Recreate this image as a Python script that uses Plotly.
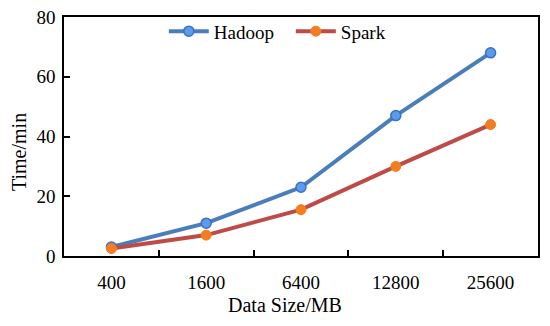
import plotly.graph_objects as go

categories = ["400", "1600", "6400", "12800", "25600"]
hadoop = [3, 11, 23, 47, 68]
spark = [2.5, 7, 15.5, 30, 44]

font = "Liberation Serif"

fig = go.Figure()
fig.add_trace(go.Scatter(
    x=categories, y=hadoop, name="Hadoop", mode="lines+markers",
    line=dict(color="#4a7ebb", width=4),
    marker=dict(size=10, color="#5b9be8", line=dict(color="#3a6fd0", width=1.5)),
))
fig.add_trace(go.Scatter(
    x=categories, y=spark, name="Spark", mode="lines+markers",
    line=dict(color="#be4b48", width=4),
    marker=dict(size=10, color="#f47d20", line=dict(color="#f47d20", width=1)),
))

fig.update_layout(
    width=542, height=318,
    margin=dict(l=56, r=12, t=9, b=70, autoexpand=False),
    paper_bgcolor="white", plot_bgcolor="white",
    font=dict(family=font, size=19, color="black"),
    showlegend=True,
    legend=dict(orientation="h", x=0.2106, xanchor="left", y=0.94, yanchor="middle",
                bgcolor="rgba(0,0,0,0)", font=dict(size=19), itemwidth=40,
                entrywidth=72, entrywidthmode="pixels", tracegroupgap=0),
    xaxis=dict(
        type="category", range=[-0.5, 4.5], tickson="boundaries",
        ticks="inside", ticklen=6, tickwidth=1.5, tickcolor="black",
        showline=True, linecolor="black", linewidth=1.5, mirror=True,
        showgrid=False, zeroline=False, automargin=False,
        ticklabelstandoff=8,
        tickfont=dict(size=19),
    ),
    yaxis=dict(
        range=[0, 80], dtick=20,
        ticks="inside", ticklen=6, tickwidth=1.5, tickcolor="black",
        showline=True, linecolor="black", linewidth=1.5, mirror=True,
        showgrid=False, zeroline=False, automargin=False,
        ticklabelstandoff=3, ticklabeloverflow="allow",
        tickfont=dict(size=19),
    ),
    annotations=[
        dict(text="Data Size/MB", xref="paper", yref="paper", x=0.467, y=-0.205,
             xanchor="center", yanchor="middle", showarrow=False, font=dict(size=20)),
        dict(text="Time/min", xref="paper", yref="paper", x=-0.095, y=0.435,
             xanchor="center", yanchor="middle", textangle=-90, showarrow=False,
             font=dict(size=20)),
    ],
)

fig.write_html("out.html")
